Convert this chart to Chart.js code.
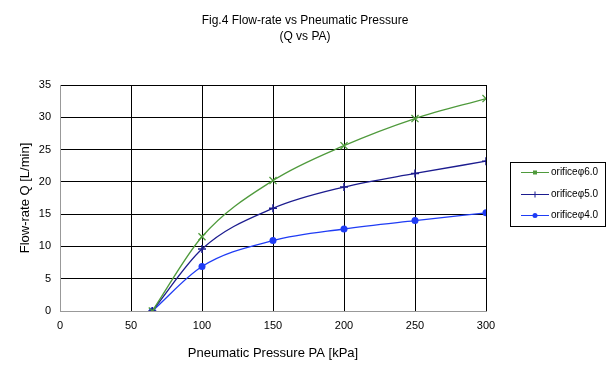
<!DOCTYPE html>
<html>
<head>
<meta charset="utf-8">
<script src="https://cdn.jsdelivr.net/npm/chart.js@4"></script>
<style>
  html, body { margin: 0; padding: 0; background: #fff; }
  #wrap { width: 610px; height: 385px; position: relative; }
</style>
</head>
<body>
<div id="wrap"><canvas id="flow_chart" width="610" height="385"></canvas></div>
<script>
const pressure = [65, 100, 150, 200, 250, 300];
const flow60 = [0, 11.5, 20.2, 25.6, 29.8, 32.9];
const flow50 = [0, 9.6, 15.9, 19.2, 21.3, 23.2];
const flow40 = [0, 6.9, 10.9, 12.7, 14.0, 15.2];
const seriesNames = ['orificeφ6.0', 'orificeφ5.0', 'orificeφ4.0'];
const xTicks = [0, 50, 100, 150, 200, 250, 300];
const yTicks = [0, 5, 10, 15, 20, 25, 30, 35];
const titleLines = ['Fig.4 Flow-rate vs Pneumatic Pressure', '(Q vs PA)'];

const FONT = '"Liberation Sans", Arial, sans-serif';

function pts(ys) {
    return pressure.map((x, i) => ({x: x, y: ys[i]}));
}

// title centred on the whole canvas + boxed legend on the right
const decorations = {
    id: 'decorations',
    afterDraw(chart) {
        const ctx = chart.ctx;
        ctx.save();
        ctx.fillStyle = '#000';
        ctx.font = '12px ' + FONT;
        ctx.textAlign = 'center';
        ctx.textBaseline = 'middle';
        ctx.fillText(titleLines[0], 305, 21);
        ctx.fillText(titleLines[1], 305, 37);

        ctx.textAlign = 'left';
        ctx.strokeStyle = '#000';
        ctx.lineWidth = 1;
        ctx.strokeRect(510.5, 162.5, 95, 64);
        const rows = [172, 194, 215];
        chart.data.datasets.forEach((ds, i) => {
            const y = rows[i] + 0.5;
            ctx.strokeStyle = ds.borderColor;
            ctx.lineWidth = 1;
            ctx.beginPath();
            ctx.moveTo(521, y);
            ctx.lineTo(549, y);
            ctx.stroke();
            ctx.fillStyle = ds.borderColor;
            if (i === 0) {
                ctx.fillRect(533, y - 2, 4, 4);
            } else if (i === 1) {
                ctx.beginPath();
                ctx.moveTo(535, y - 3);
                ctx.lineTo(535, y + 3);
                ctx.stroke();
            } else {
                ctx.beginPath();
                ctx.arc(535, y, 2.5, 0, Math.PI * 2);
                ctx.fill();
            }
            ctx.fillStyle = '#000';
            ctx.font = '10px ' + FONT;
            ctx.textBaseline = 'middle';
            ctx.fillText(ds.label, 551, y);
        });
        ctx.restore();
    }
};

new Chart(document.getElementById('flow_chart'), {
    type: 'line',
    data: {
        datasets: [{
            label: seriesNames[0],
            data: pts(flow60),
            borderColor: '#4f9a3c',
            backgroundColor: '#4f9a3c',
            borderWidth: 1.3,
            pointStyle: 'crossRot',
            pointRadius: 5,
            pointBorderWidth: 1.3,
            cubicInterpolationMode: 'monotone'
        }, {
            label: seriesNames[1],
            data: pts(flow50),
            borderColor: '#1c1c8f',
            backgroundColor: '#1c1c8f',
            borderWidth: 1.3,
            pointStyle: 'cross',
            pointRadius: 4,
            pointBorderWidth: 1.5,
            cubicInterpolationMode: 'monotone'
        }, {
            label: seriesNames[2],
            data: pts(flow40),
            borderColor: '#1f3cf5',
            backgroundColor: '#1f3cf5',
            borderWidth: 1.3,
            pointStyle: 'circle',
            pointRadius: 3.5,
            pointBorderWidth: 0,
            cubicInterpolationMode: 'monotone'
        }]
    },
    options: {
        responsive: false,
        animation: false,
        layout: {padding: {top: 85, right: 124, bottom: 24, left: 18}},
        plugins: {
            legend: {display: false},
            tooltip: {enabled: false},
            title: {display: false}
        },
        scales: {
            x: {
                type: 'linear',
                min: 0,
                max: 300,
                afterBuildTicks: (s) => { s.ticks = xTicks.map(v => ({value: v})); },
                afterFit: (s) => { s.height = 50; },
                grid: {color: '#000', lineWidth: 1, drawTicks: false},
                border: {color: '#999', width: 1},
                ticks: {color: '#000', font: {family: FONT, size: 11}, padding: 8},
                title: {
                    display: true,
                    text: 'Pneumatic Pressure PA [kPa]',
                    color: '#000',
                    font: {family: FONT, size: 13},
                    padding: {top: 4, bottom: 0}
                }
            },
            y: {
                type: 'linear',
                min: 0,
                max: 35,
                afterBuildTicks: (s) => { s.ticks = yTicks.map(v => ({value: v})); },
                afterFit: (s) => { s.width = 42; },
                grid: {color: '#000', lineWidth: 1, drawTicks: false},
                border: {color: '#999', width: 1},
                ticks: {color: '#000', font: {family: FONT, size: 11}, padding: 9},
                title: {
                    display: true,
                    text: 'Flow-rate Q [L/min]',
                    color: '#000',
                    font: {family: FONT, size: 13},
                    padding: {top: 0, bottom: 0}
                }
            }
        }
    },
    plugins: [decorations]
});
</script>
</body>
</html>
